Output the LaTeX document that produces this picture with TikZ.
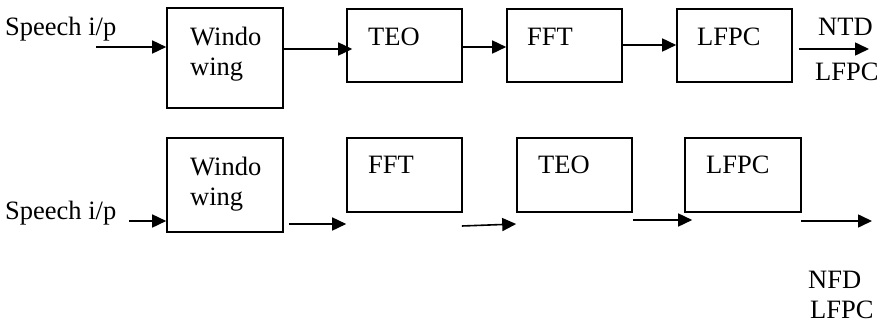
\documentclass[tikz,border=0pt]{standalone}
\usepackage{fontspec}
\setmainfont{Liberation Serif}
\usetikzlibrary{arrows.meta}
\begin{document}
\begin{tikzpicture}[x=1pt,y=-1pt,
  blk/.style={draw, line width=1.6pt, inner sep=0pt},
  lbl/.style={anchor=base west, inner sep=0pt, font=\fontsize{26.5}{30}\selectfont},
  arr/.style={line width=1.6pt, -{Triangle[length=14pt,width=13pt]}}]
\useasboundingbox (0,0) rectangle (881,324);

% upper chain: time-domain TEO path
\node[blk, minimum width=116pt, minimum height=100pt] (win1) at (225,58) {};
\node[blk, minimum width=115pt, minimum height=73pt] (teo1) at (404.5,45.5) {};
\node[blk, minimum width=115pt, minimum height=73pt] (fft1) at (564.5,45.5) {};
\node[blk, minimum width=115pt, minimum height=73pt] (lfpc1) at (734.5,45.5) {};

\node[lbl] (sp1) at (5,35) {Speech i/p};
\node[lbl] (w1a) at (190,45) {Windo};
\node[lbl] (w1b) at (190,75) {wing};
\node[lbl] (t1) at (368,45) {TEO};
\node[lbl] (f1) at (527,45) {FFT};
\node[lbl] (l1) at (697,45) {LFPC};
\node[lbl] (o1a) at (818,35) {NTD};
\node[lbl] (o1b) at (815,80) {LFPC};

\coordinate (in1) at (96,47);
\coordinate (out1) at (869,49);
\draw[arr] (in1) -- ([yshift=11pt]win1.west);
\draw[arr] ([yshift=9pt]win1.east) -- ([xshift=6pt,yshift=-3.5pt]teo1.west);
\draw[arr] ([yshift=-1.5pt]teo1.east) -- ([yshift=-1.5pt]fft1.west);
\draw[arr] ([yshift=0.5pt]fft1.east) -- ([yshift=0.5pt]lfpc1.west);
\draw[arr] ([xshift=6pt,yshift=-3.5pt]lfpc1.east) -- (out1);

% lower chain: frequency-domain TEO path
\node[blk, minimum width=116pt, minimum height=94pt] (win2) at (225,185) {};
\node[blk, minimum width=115pt, minimum height=74pt] (fft2) at (404.5,175) {};
\node[blk, minimum width=115pt, minimum height=74pt] (teo2) at (574.5,175) {};
\node[blk, minimum width=116pt, minimum height=74pt] (lfpc2) at (743,175) {};

\node[lbl] (sp2) at (5,219) {Speech i/p};
\node[lbl] (w2a) at (190,175) {Windo};
\node[lbl] (w2b) at (190,205) {wing};
\node[lbl] (f2) at (368,173) {FFT};
\node[lbl] (t2) at (538,173) {TEO};
\node[lbl] (l2) at (706,173) {LFPC};
\node[lbl] (o2a) at (808,288) {NFD};
\node[lbl] (o2b) at (810,318) {LFPC};

\coordinate (in2) at (129,221);
\coordinate (out2) at (872,221);
\draw[arr] (in2) -- ([yshift=-36pt]win2.west);
\draw[arr] ([xshift=5pt,yshift=-39pt]win2.east) -- ([yshift=-49pt]fft2.west);
\draw[arr] ([xshift=-1pt,yshift=-51pt]fft2.east) -- ([yshift=-49pt]teo2.west);
\draw[arr] ([yshift=-45pt]teo2.east) -- ([xshift=8pt,yshift=-45pt]lfpc2.west);
\draw[arr] ([xshift=-1pt,yshift=-46pt]lfpc2.east) -- (out2);
\end{tikzpicture}
\end{document}
